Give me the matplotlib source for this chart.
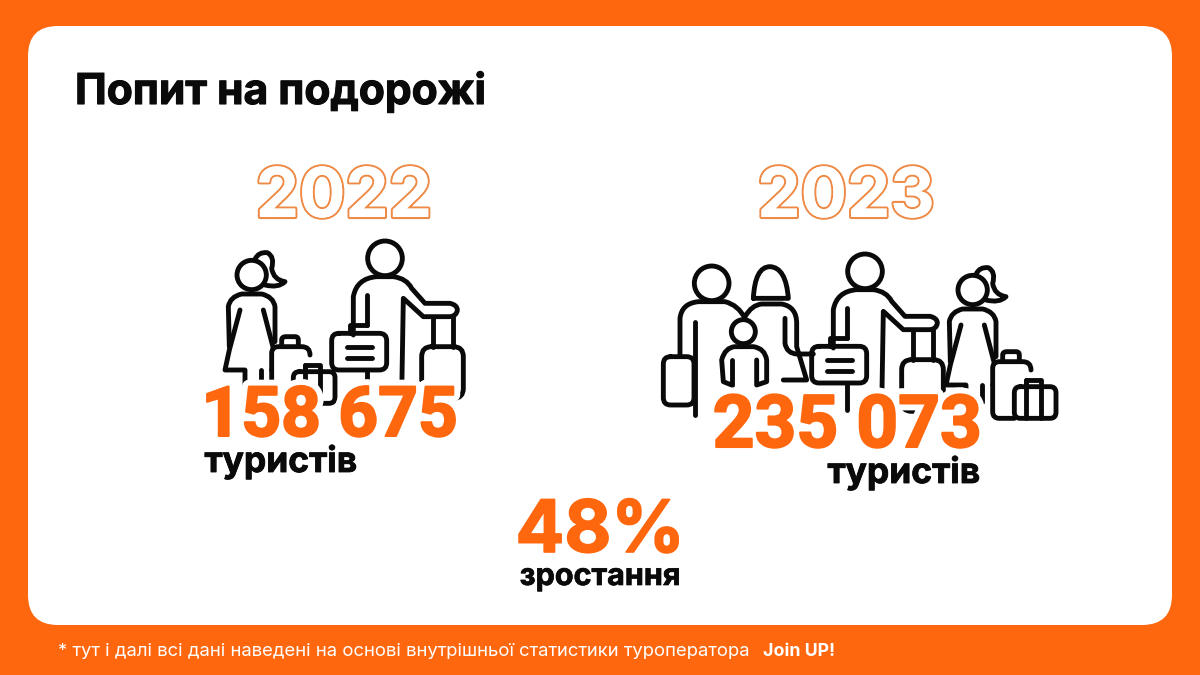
import matplotlib
matplotlib.use("Agg")
import matplotlib.pyplot as plt
import matplotlib.patheffects as pe
from matplotlib.patches import FancyBboxPatch, Circle, PathPatch
from matplotlib.path import Path

years = ["2022", "2023"]
tourists = [158675, 235073]
tourist_label = "туристів"
growth_value = "48%"
growth_label = "зростання"
title = "Попит на подорожі"
note = "* тут і далі всі дані наведені на основі внутрішньої статистики туроператора"
note_brand = "Join UP!"

ORANGE = "#FF670F"
BLACK = "#0A0A0A"
FONT = "Inter"
NUM_FONT = "Roboto"
LW = 3.5

plt.rcParams["font.family"] = [FONT, "DejaVu Sans"]

fig = plt.figure(figsize=(12, 6.75), dpi=100, facecolor=ORANGE)
ax = fig.add_axes([0, 0, 1, 1])
ax.set_xlim(0, 1200)
ax.set_ylim(675, 0)
ax.axis("off")

ax.add_patch(FancyBboxPatch((28, 26), 1144, 599, boxstyle="round,pad=0,rounding_size=30",
                            fc="white", ec="none", zorder=1))


# --- icon helpers: M / L / Q segments in zoomed units, scaled down by 3 ---
def stroke(segs, ox, oy):
    verts, codes = [], []
    for s in segs:
        if s[0] == "M":
            verts.append((ox + s[1] / 3, oy + s[2] / 3))
            codes.append(Path.MOVETO)
        elif s[0] == "L":
            verts.append((ox + s[1] / 3, oy + s[2] / 3))
            codes.append(Path.LINETO)
        else:
            verts += [(ox + s[1] / 3, oy + s[2] / 3), (ox + s[3] / 3, oy + s[4] / 3)]
            codes += [Path.CURVE3, Path.CURVE3]
    ax.add_patch(PathPatch(Path(verts, codes), fc="none", ec=BLACK, lw=LW,
                           capstyle="round", joinstyle="round", zorder=2))


def head(cx, cy, r, ox, oy):
    ax.add_patch(Circle((ox + cx / 3, oy + cy / 3), r / 3, fc="none", ec=BLACK, lw=LW, zorder=2))


def rrect(x0, y0, x1, y1, r, ox, oy):
    stroke([("M", x0 + r, y0), ("L", x1 - r, y0), ("Q", x1, y0, x1, y0 + r),
            ("L", x1, y1 - r), ("Q", x1, y1, x1 - r, y1), ("L", x0 + r, y1),
            ("Q", x0, y1, x0, y1 - r), ("L", x0, y0 + r), ("Q", x0, y0, x0 + r, y0)], ox, oy)


def girl_with_bags(ox, oy):
    head(185, 405, 44, ox, oy)
    stroke([("M", 195, 358), ("Q", 205, 335, 232, 338), ("Q", 255, 350, 245, 385),
            ("Q", 250, 420, 285, 425), ("Q", 265, 445, 225, 435)], ox, oy)
    stroke([("M", 118, 620), ("L", 115, 500), ("Q", 120, 470, 155, 462), ("L", 215, 462),
            ("Q", 250, 470, 255, 500), ("L", 255, 605)], ox, oy)
    stroke([("M", 150, 510), ("L", 118, 630), ("L", 105, 690), ("L", 165, 690), ("L", 165, 740)], ox, oy)
    stroke([("M", 220, 510), ("L", 250, 625)], ox, oy)
    stroke([("M", 212, 690), ("L", 212, 740)], ox, oy)
    # suitcase and small bag
    stroke([("M", 245, 690), ("L", 245, 640), ("Q", 245, 620, 265, 620), ("L", 335, 620),
            ("Q", 360, 620, 360, 645)], ox, oy)
    stroke([("M", 245, 690), ("L", 245, 770), ("Q", 245, 790, 265, 790), ("L", 310, 790)], ox, oy)
    stroke([("M", 275, 618), ("L", 275, 600), ("Q", 275, 590, 288, 590), ("L", 315, 590),
            ("Q", 325, 590, 325, 600), ("L", 325, 618)], ox, oy)
    rrect(310, 695, 435, 790, 18, ox, oy)
    stroke([("M", 345, 695), ("L", 345, 675), ("L", 390, 675), ("L", 390, 790)], ox, oy)
    stroke([("M", 345, 675), ("L", 345, 790)], ox, oy)


def man_with_luggage(ox, oy):
    head(585, 355, 52, ox, oy)
    stroke([("M", 490, 585), ("L", 490, 470), ("Q", 500, 415, 560, 410), ("L", 610, 410),
            ("Q", 650, 415, 665, 445), ("L", 705, 490), ("L", 780, 490),
            ("Q", 802, 495, 802, 510), ("Q", 800, 528, 780, 530), ("L", 700, 530),
            ("L", 640, 475), ("L", 635, 770)], ox, oy)
    stroke([("M", 530, 465), ("L", 530, 555)], ox, oy)
    stroke([("M", 530, 690), ("L", 530, 770)], ox, oy)
    # briefcase
    rrect(425, 580, 590, 690, 22, ox, oy)
    stroke([("M", 480, 578), ("L", 480, 555), ("L", 530, 555)], ox, oy)
    stroke([("M", 470, 620), ("L", 545, 620)], ox, oy)
    stroke([("M", 470, 655), ("L", 545, 655)], ox, oy)
    # trolley
    stroke([("M", 730, 530), ("L", 730, 620)], ox, oy)
    stroke([("M", 790, 530), ("L", 790, 620)], ox, oy)
    rrect(695, 620, 820, 775, 30, ox, oy)


def family_extra(ox, oy):
    # father
    head(185, 400, 52, ox, oy)
    stroke([("M", 90, 615), ("L", 90, 505), ("Q", 95, 460, 145, 455), ("L", 225, 455),
            ("Q", 265, 465, 285, 505)], ox, oy)
    stroke([("M", 135, 515), ("L", 135, 795)], ox, oy)
    rrect(40, 620, 132, 765, 22, ox, oy)
    # mother
    stroke([("M", 310, 445), ("Q", 315, 350, 360, 350), ("Q", 408, 352, 415, 445), ("L", 310, 445)], ox, oy)
    stroke([("M", 285, 500), ("Q", 305, 465, 335, 462), ("L", 395, 462), ("Q", 440, 470, 440, 520),
            ("L", 440, 590), ("L", 470, 690), ("L", 400, 690)], ox, oy)
    stroke([("M", 405, 505), ("L", 405, 580), ("Q", 410, 610, 440, 612), ("L", 490, 612)], ox, oy)
    # child
    head(280, 545, 36, ox, oy)
    stroke([("M", 245, 705), ("L", 220, 695), ("L", 215, 630), ("Q", 225, 592, 255, 590), ("L", 310, 590),
            ("Q", 345, 595, 350, 630), ("L", 350, 695), ("L", 320, 705), ("L", 320, 630)], ox, oy)
    stroke([("M", 245, 630), ("L", 245, 705)], ox, oy)


# left group: zoom origin of the first crop
girl_with_bags(190, 140)
man_with_luggage(190, 140)
# right group: same figures shifted, plus the parents and the child
man_with_luggage(670, 153)
girl_with_bags(911, 155)
family_extra(650, 150)

# --- text ---
ax.text(75, 104, title, fontsize=30.6, fontweight="bold", color=BLACK, zorder=5,
        path_effects=[pe.withStroke(linewidth=0.8, foreground=BLACK)])

year_x = [344, 846]
for yr, x in zip(years, year_x):
    ax.text(x, 217, yr, fontsize=49.5, fontweight="bold", color="white", ha="center", va="baseline", zorder=5,
            path_effects=[pe.withStroke(linewidth=3, foreground="#EE8A45"), pe.Normal()])

num_x = [329.5, 847]
num_y = [436, 447]
num_size = [50, 52.5]
label_x = [281, 904]
label_y = [472, 483]
for val, x, y, fs, lx, ly in zip(tourists, num_x, num_y, num_size, label_x, label_y):
    ax.text(x, y, f"{val:,}".replace(",", " "), fontsize=fs, fontweight="bold", family=NUM_FONT, color=ORANGE,
            ha="center", va="baseline", zorder=5,
            path_effects=[pe.withStroke(linewidth=10, foreground="white"),
                          pe.withStroke(linewidth=1.5, foreground=ORANGE)])
    ax.text(lx, ly, tourist_label, fontsize=25.5, fontweight="bold", color=BLACK, ha="center", va="baseline",
            zorder=6, path_effects=[pe.withStroke(linewidth=0.6, foreground=BLACK)])

ax.text(600, 552, growth_value, fontsize=52, fontweight="bold", color=ORANGE, ha="center", va="baseline", zorder=5,
        path_effects=[pe.withStroke(linewidth=1.2, foreground=ORANGE)])
ax.text(600, 585, growth_label, fontsize=22, fontweight="bold", color=BLACK, ha="center", va="baseline", zorder=5,
        path_effects=[pe.withStroke(linewidth=0.5, foreground=BLACK)])

ax.text(58, 656, note, fontsize=13.3, color="white", va="baseline", zorder=5)
ax.text(763, 656, note_brand, fontsize=12.8, fontweight="bold", color="white", va="baseline", zorder=5)

fig.savefig("out.png", dpi=100, facecolor=ORANGE)
